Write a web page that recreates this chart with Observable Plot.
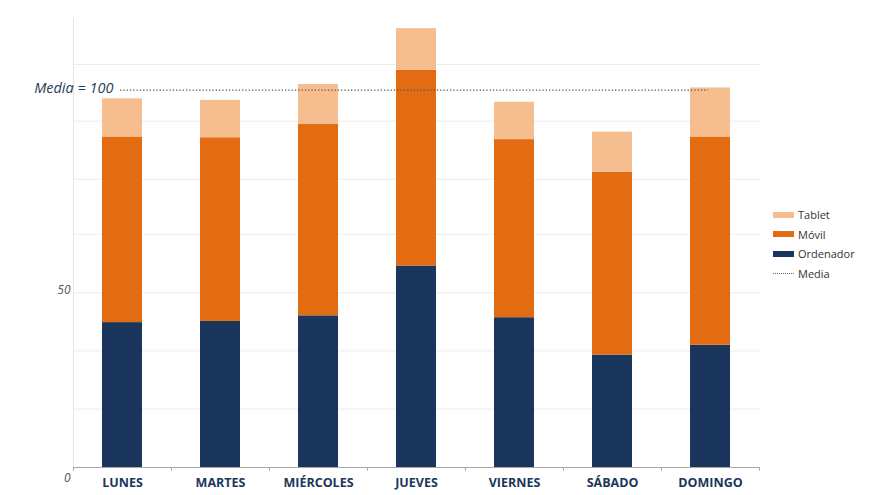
<!DOCTYPE html>
<html>
<head>
<meta charset="utf-8">
<script src="https://cdn.jsdelivr.net/npm/d3@7"></script>
<script src="https://cdn.jsdelivr.net/npm/@observablehq/plot@0.6"></script>
<style>
  html, body { margin: 0; padding: 0; background: #fff; }
  #wrap { position: relative; width: 880px; height: 495px; font-family: "Open Sans", sans-serif; }
  #legend { position: absolute; left: 773px; top: 205px; font-size: 11px; color: #333; }
  .row { display: flex; align-items: center; height: 19.5px; }
  .sw { width: 21px; height: 6px; margin-right: 4px; }
  .dot { width: 21px; height: 0; border-top: 1.3px dotted #666; margin-right: 4px; }
</style>
</head>
<body>
<div id="wrap">
  <div id="chart"></div>
  <div id="legend"></div>
</div>
<script>
const days = ["LUNES", "MARTES", "MIÉRCOLES", "JUEVES", "VIERNES", "SÁBADO", "DOMINGO"];
const ordenador = [38.4, 38.7, 40.2, 53.4, 39.7, 29.8, 32.4];
const movil = [49.2, 48.7, 50.7, 51.9, 47.2, 48.5, 55.2];
const tablet = [10.1, 9.9, 10.6, 11.0, 9.9, 10.6, 13.0];
const seriesNames = ["Ordenador", "Móvil", "Tablet"];
const seriesColors = ["#1b365d", "#e36c12", "#f6bd8e"];
const media = 100;
const yTickLabels = [0, 50];
const gridValues = [0, 15.5, 30.9, 46.3, 61.8, 76.4, 91.8, 106.8];

const rows = [];
days.forEach((d, i) => {
  rows.push({day: d, serie: "Ordenador", value: ordenador[i]});
  rows.push({day: d, serie: "Móvil", value: movil[i]});
  rows.push({day: d, serie: "Tablet", value: tablet[i]});
});

const chart = Plot.plot({
  width: 880,
  height: 495,
  marginLeft: 73,
  marginRight: 120,
  marginTop: 18,
  marginBottom: 28,
  style: {fontFamily: "'Open Sans', sans-serif", background: "#fff"},
  x: {domain: days, paddingInner: 0.59, paddingOuter: 0.295, label: null},
  y: {domain: [0, 119], label: null, axis: null},
  color: {domain: seriesNames, range: seriesColors},
  marks: [
    Plot.ruleY(gridValues, {stroke: "#ececec", strokeWidth: 1}),
    Plot.frame({anchor: "left", stroke: "#e6e6e6"}),
    Plot.barY(rows, {x: "day", y: "value", fill: "serie", order: seriesNames}),
    Plot.ruleY([0], {stroke: "#a8a8a8", strokeWidth: 1.2}),
    Plot.ruleX(days, {x: d => d, y1: 0, y2: -1, stroke: "#a8a8a8", dx: -49}),
    Plot.ruleX([days[days.length - 1]], {x: d => d, y1: 0, y2: -1, stroke: "#a8a8a8", dx: 49}),
    Plot.axisX({tickSize: 0, tickPadding: 11, fontSize: 12.5, fontWeight: "bold", fill: "#1b365d"}),
    Plot.text(yTickLabels, {y: d => d, text: d => String(d), frameAnchor: "left", textAnchor: "end", dx: -3, dy: 11, fontStyle: "italic", fontSize: 12, fill: "#555"}),
    Plot.ruleY([media], {stroke: "#555", strokeWidth: 1.3, strokeDasharray: "1.3,2", insetLeft: 47, insetRight: 52}),
    Plot.text([media], {y: d => d, text: d => "Media = " + d, frameAnchor: "left", textAnchor: "end", dx: 40, dy: -2, fontStyle: "italic", fontSize: 14.5, fill: "#2a3d57"})
  ]
});
document.getElementById("chart").appendChild(chart);

const legend = document.getElementById("legend");
const legendItems = [
  {name: "Tablet", color: seriesColors[2]},
  {name: "Móvil", color: seriesColors[1]},
  {name: "Ordenador", color: seriesColors[0]},
  {name: "Media", color: null}
];
legendItems.forEach(it => {
  const r = document.createElement("div");
  r.className = "row";
  const s = document.createElement("div");
  if (it.color) { s.className = "sw"; s.style.background = it.color; }
  else { s.className = "dot"; }
  const t = document.createElement("span");
  t.textContent = it.name;
  r.appendChild(s); r.appendChild(t);
  legend.appendChild(r);
});
</script>
</body>
</html>
